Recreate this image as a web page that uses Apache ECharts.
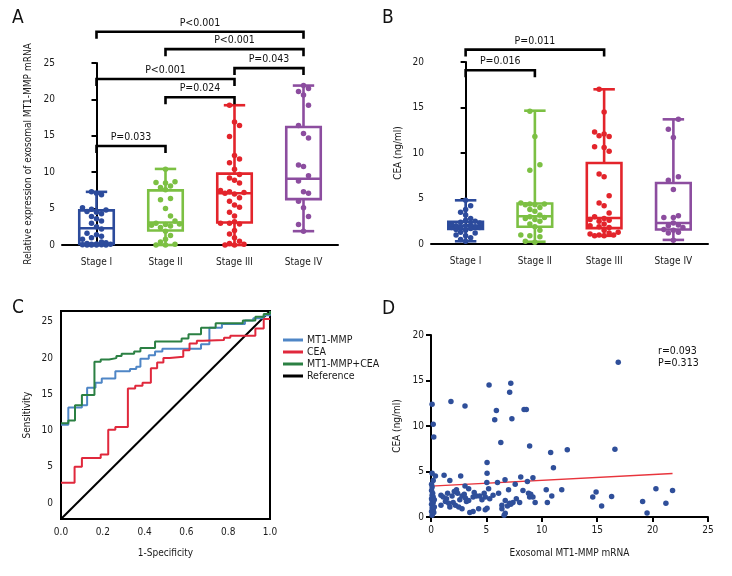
<!DOCTYPE html>
<html><head><meta charset="utf-8">
<script src="https://cdn.jsdelivr.net/npm/echarts@6/dist/echarts.min.js"></script>
<style>html,body{margin:0;padding:0;background:#fff}#c{width:732px;height:576px}</style>
</head><body><div id="c"></div>
<script>
const FONT = "'Liberation Sans Narrow','DejaVu Sans Condensed',sans-serif";
const FS = 10;
const stages = ['Stage I', 'Stage II', 'Stage III', 'Stage IV'];
const stageColors = ['#2c4b9c', '#7cc043', '#e3242b', '#8c4d9f'];

// Panel A: exosomal MT1-MMP mRNA by stage  [min, Q1, median, Q3, max]
const mmpBox = [
  [0, 0.15, 2.3, 4.75, 7.3],
  [0, 2.0, 3.1, 7.5, 10.45],
  [0, 3.1, 7.1, 9.8, 19.2],
  [1.9, 6.3, 9.1, 16.2, 21.9]
];
const mmpStageI = [7.3,7.1,6.9,5.1,4.9,4.8,4.6,4.5,4.3,3.9,3.6,3.3,3.0,2.5,2.2,1.6,1.4,1.2,1.0,0.8,0.4,0.3,0.2,0.15,0.1,0.1,0.05,0.05,0,0,0,0];
const mmpStageII = [10.4,8.7,8.6,8.5,8.1,7.9,7.6,6.4,6.2,5.0,4.0,3.3,3.0,2.9,2.8,2.7,2.6,2.4,1.9,1.3,0.8,0.4,0.1,0,0];
const mmpStageIII = [19.2,16.9,16.4,14.9,12.3,11.8,11.3,10.4,9.7,9.2,8.9,8.5,7.5,7.3,7.2,7.1,7.0,6.5,6.0,5.5,5.2,4.5,4.0,3.2,3.0,3.0,2.9,2.0,1.5,1.0,0.5,0.2,0.1,0,0];
const mmpStageIV = [21.9,21.5,21.1,20.6,19.2,16.4,15.3,14.7,11.0,10.8,9.5,8.8,7.3,7.1,6.0,5.1,3.9,2.8,1.9];
const mmpBrackets = [[0,3,29.3],[1,3,26.9],[2,3,24.3],[0,2,22.8],[1,2,20.3],[0,1,13.6]];
const mmpBracketLabels = ['P<0.001','P<0.001','P=0.043','P<0.001','P=0.024','P=0.033'];

// Panel B: CEA by stage
const ceaBox = [
  [0.3, 1.65, 2.0, 2.45, 4.8],
  [0.25, 1.9, 3.05, 4.45, 14.65],
  [0.9, 1.75, 2.85, 8.9, 17.0],
  [0.45, 1.6, 2.3, 6.7, 13.7]
];
const ceaStageI = [4.8,4.2,3.8,3.5,3.2,2.8,2.6,2.5,2.4,2.3,2.2,2.1,2.0,2.0,1.9,1.9,1.8,1.8,1.7,1.6,1.5,1.3,1.2,1.0,0.9,0.7,0.5,0.3];
const ceaStageII = [14.6,11.8,8.7,8.1,4.5,4.4,4.4,4.3,4.3,4.0,3.8,3.6,3.2,3.0,2.9,2.8,2.7,2.5,2.2,1.9,1.5,1.0,0.9,0.8,0.3,0.2];
const ceaStageIII = [17.0,14.5,12.3,12.1,11.9,11.8,10.7,10.6,10.2,7.7,7.4,5.3,4.5,4.2,3.4,3.0,2.8,2.7,2.6,2.5,2.2,2.0,1.9,1.8,1.5,1.3,1.2,1.1,1.0,1.0,0.9,0.9];
const ceaStageIV = [13.7,12.6,11.7,7.4,7.0,6.0,3.1,2.9,2.9,2.3,2.1,2.0,1.8,1.6,1.5,1.3,1.2,0.4];
const ceaBrackets = [[0,2,21.36],[0,1,19.1]];
const ceaBracketLabels = ['P=0.011','P=0.016'];

// Panel C: ROC curves (1-specificity, sensitivity)
const rocMMP = [[0,10.8],[0.035,13.2],[0.1,13.5],[0.125,15.9],[0.165,16.6],[0.195,17.2],[0.26,18.2],[0.33,18.5],[0.36,18.8],[0.38,19.9],[0.42,20.4],[0.45,20.9],[0.485,21.3],[0.67,21.9],[0.71,24.2],[0.77,24.7],[0.88,25.2],[0.92,25.5],[0.97,25.9],[1.0,26.5]];
const rocCEA = [[0,2.8],[0.065,5.0],[0.1,6.2],[0.19,6.7],[0.226,10.1],[0.26,10.5],[0.32,15.8],[0.355,16.2],[0.39,16.6],[0.43,18.6],[0.46,19.4],[0.49,20.0],[0.52,20.2],[0.585,21.1],[0.615,22.0],[0.65,22.4],[0.68,22.5],[0.78,22.8],[0.81,23.1],[0.93,24.1],[0.97,25.4],[1.0,25.4]];
const rocCombined = [[0,11.0],[0.035,11.4],[0.067,13.5],[0.1,14.9],[0.16,19.5],[0.19,19.8],[0.23,20.0],[0.265,20.3],[0.29,20.6],[0.35,20.9],[0.38,21.4],[0.45,22.3],[0.577,22.7],[0.61,23.3],[0.67,24.2],[0.74,24.8],[0.87,25.2],[0.93,25.7],[0.97,26.1],[1.0,26.5]];
const rocReference = [[0,-2.2],[1,26.5]];
const rocYLabels = [0,5,10,15,20,25];

// Panel D: correlation scatter (exosomal MT1-MMP mRNA, CEA)
const corrPoints = [
  [0.1,12.4],[0.2,10.2],[0.25,8.8],[1.8,12.7],[3.07,12.2],[5.24,14.5],[7.2,14.7],[7.1,13.7],[5.9,11.7],[5.75,10.7],
  [7.3,10.8],[8.4,11.8],[8.6,11.8],[6.3,8.2],[8.9,7.8],[10.8,7.1],[12.3,7.4],[11.05,5.4],[5.06,6.0],[5.06,4.8],
  [16.9,17.0],[16.6,7.45],[14.9,2.75],[14.6,2.2],[15.4,1.2],[16.3,2.25],[19.1,1.7],[19.5,0.45],[20.3,3.1],[21.2,1.5],[21.8,2.9],
  [0.1,4.8],[0.2,4.0],[0.05,3.6],[0.1,3.3],[0.05,2.9],[0.15,2.6],[0.1,2.4],[0.2,2.2],[0.05,2.0],[0.1,1.8],[0.2,1.6],
  [0.05,1.4],[0.15,1.2],[0.1,1.0],[0.2,0.8],[0.05,0.6],[0.15,0.4],[0.1,0.2],[0.3,1.9],[0.3,1.1],[0.25,0.5],[0.4,4.5],
  [1.18,4.6],[2.68,4.5],[1.7,4.0],[3.07,3.4],[6.68,4.1],[6.0,3.8],[8.1,4.4],[9.2,4.3],[8.7,3.9],[7.6,3.6],[5.04,3.8],
  [5.2,3.1],[3.4,3.1],[0.9,2.4],[1.4,2.0],[1.9,2.3],[2.3,3.0],[2.4,2.6],[2.6,1.9],[2.8,2.3],[3.0,2.5],[3.1,2.1],
  [3.4,1.8],[3.8,2.2],[4.1,2.3],[4.4,2.3],[4.8,2.6],[4.9,2.2],[5.6,2.4],[6.7,1.8],[7.0,3.0],[7.1,1.5],[7.4,1.6],
  [7.7,2.0],[8.0,1.6],[8.8,2.6],[8.9,2.2],[9.2,2.2],[9.4,1.6],[10.4,3.0],[10.5,1.6],[10.9,2.3],[11.8,3.0],
  [0.9,1.3],[1.3,1.7],[1.7,1.1],[2.0,1.6],[2.2,1.3],[2.8,0.9],[3.5,0.5],[3.8,0.6],[4.3,0.9],[4.9,0.8],[5.06,0.95],
  [6.4,1.3],[6.4,0.9],[6.7,0.4],[6.9,1.2],[7.2,1.4],[1.1,2.2],[1.6,1.5],[2.5,1.1],[3.2,1.7],[4.6,1.9],[5.3,2.0],
  [6.1,2.6],[6.6,0.2],[8.3,2.9],[9.0,2.5],[3.9,2.7],[2.1,2.8],[1.5,2.6]
];
const fitLine = [[0,3.4],[21.8,4.78]];

// deterministic beeswarm-style spread of dots inside each box
function swarm(values, idx, pxPerUnit, bandPx) {
  const placed = [], out = [];
  const sorted = values.slice().sort((a, b) => a - b);
  const d = 5.2;
  const starts = [0, -5, 5];
  const fallback = [0, -5, 5, -9.5, 9.5, -14, 14];
  sorted.forEach((v, n) => {
    const py = v * pxPerUnit;
    const cand = [starts[n % 3]].concat(fallback);
    let best = cand[0], bestScore = -1;
    for (const off of cand) {
      let minD = Infinity;
      placed.forEach(p => { minD = Math.min(minD, Math.hypot(p[0] - off, p[1] - py)); });
      if (minD >= d) { best = off; break; }
      if (minD > bestScore) { bestScore = minD; best = off; }
    }
    placed.push([best, py]);
    out.push([idx + best / bandPx, v]);
  });
  return out;
}

function boxRender(params, api) {
  const i = api.value(0);
  const c = stageColors[i];
  const bw = api.size([1, 0])[0] * 0.5;
  const cap = bw * 0.62;
  const p = k => api.coord([i, api.value(k)]);
  const x = p(1)[0];
  const yMin = p(1)[1], yQ1 = p(2)[1], yMed = p(3)[1], yQ3 = p(4)[1], yMax = p(5)[1];
  const st = {stroke: c, lineWidth: 2.6, fill: null};
  return {type: 'group', children: [
    {type: 'line', shape: {x1: x, y1: yMax, x2: x, y2: yQ3}, style: st},
    {type: 'line', shape: {x1: x, y1: yQ1, x2: x, y2: yMin}, style: st},
    {type: 'line', shape: {x1: x - cap / 2, y1: yMax, x2: x + cap / 2, y2: yMax}, style: st},
    {type: 'line', shape: {x1: x - cap / 2, y1: yMin, x2: x + cap / 2, y2: yMin}, style: st},
    {type: 'rect', shape: {x: x - bw / 2, y: yQ3, width: bw, height: yQ1 - yQ3}, style: {stroke: c, lineWidth: 2.6, fill: 'rgba(255,255,255,0)'}},
    {type: 'line', shape: {x1: x - bw / 2, y1: yMed, x2: x + bw / 2, y2: yMed}, style: st}
  ]};
}

function bracketRenderer(labels) {
  return function (params, api) {
    const a = api.value(0), b = api.value(1), y = api.value(2);
    const p1 = api.coord([a, y]), p2 = api.coord([b, y]);
    const leg = 7;
    return {type: 'group', children: [
      {type: 'polyline', shape: {points: [[p1[0], p1[1] + leg], [p1[0], p1[1]], [p2[0], p2[1]], [p2[0], p2[1] + leg]]},
        style: {stroke: '#000', lineWidth: 2.6, fill: null}},
      {type: 'text', x: (p1[0] + p2[0]) / 2, y: p1[1] - 3,
        style: {text: labels[params.dataIndex], align: 'center', verticalAlign: 'bottom', fontSize: FS + 0.5, fontFamily: FONT, fill: '#111'}}
    ]};
  };
}

const chart = echarts.init(document.getElementById('c'), null, {renderer: 'canvas'});
const axisLineStyle = {lineStyle: {color: '#000', width: 2}};
const lbl = {color: '#1a1a1a', fontSize: FS, fontFamily: FONT};
const nameStyle = {color: '#1a1a1a', fontSize: FS, fontFamily: FONT};

function catAxis(grid) {
  return {type: 'category', gridIndex: grid, data: stages, boundaryGap: true,
    axisLine: axisLineStyle, axisTick: {alignWithLabel: true, length: 5, lineStyle: {color: '#000', width: 2}},
    axisLabel: Object.assign({margin: 12, interval: 0}, lbl), splitLine: {show: false}};
}
function hiddenAxis(grid) {
  return {type: 'value', gridIndex: grid, min: -0.5, max: 3.5, show: false};
}
function valAxis(grid, min, max, name, gap) {
  return {type: 'value', gridIndex: grid, min: min, max: max, interval: 5,
    axisLine: {show: true, lineStyle: {color: '#000', width: 2}},
    axisTick: {show: true, length: 5, lineStyle: {color: '#000', width: 2}},
    axisLabel: Object.assign({margin: 7}, lbl), splitLine: {show: false},
    name: name, nameLocation: 'middle', nameGap: gap, nameTextStyle: nameStyle};
}

const mmpStages = [mmpStageI, mmpStageII, mmpStageIII, mmpStageIV];
const ceaStages = [ceaStageI, ceaStageII, ceaStageIII, ceaStageIV];

const series = [];
// Panel A
series.push({type: 'custom', xAxisIndex: 0, yAxisIndex: 0, renderItem: boxRender, z: 2,
  data: mmpBox.map((b, i) => [i].concat(b)), encode: {x: 0, y: [1, 2, 3, 4, 5]}});
mmpStages.forEach((vals, i) => series.push({type: 'scatter', xAxisIndex: 1, yAxisIndex: 0, z: 3,
  symbolSize: 5.5, itemStyle: {color: stageColors[i], opacity: 1}, data: swarm(vals, i, 7.3, 69)}));
series.push({type: 'custom', xAxisIndex: 0, yAxisIndex: 0, clip: false, z: 4,
  renderItem: bracketRenderer(mmpBracketLabels), data: mmpBrackets, encode: {x: [0, 1], y: 2}});
// Panel B
series.push({type: 'custom', xAxisIndex: 2, yAxisIndex: 1, renderItem: boxRender, z: 2,
  data: ceaBox.map((b, i) => [i].concat(b)), encode: {x: 0, y: [1, 2, 3, 4, 5]}});
ceaStages.forEach((vals, i) => series.push({type: 'scatter', xAxisIndex: 3, yAxisIndex: 1, z: 3,
  symbolSize: 5.5, itemStyle: {color: stageColors[i], opacity: 1}, data: swarm(vals, i, 9.13, 69)}));
series.push({type: 'custom', xAxisIndex: 2, yAxisIndex: 1, clip: false, z: 4,
  renderItem: bracketRenderer(ceaBracketLabels), data: ceaBrackets, encode: {x: [0, 1], y: 2}});
// Panel C
const rocLine = (name, data, color, z) => ({type: 'line', name: name, xAxisIndex: 4, yAxisIndex: 2, data: data,
  step: 'end', symbol: 'none', z: z, lineStyle: {color: color, width: 2}, itemStyle: {color: color}});
series.push(rocLine('MT1-MMP', rocMMP, '#4f86c6', 3));
series.push(rocLine('CEA', rocCEA, '#e0283c', 3));
series.push(rocLine('MT1-MMP+CEA', rocCombined, '#2b8043', 4));
series.push({type: 'line', name: 'Reference', xAxisIndex: 4, yAxisIndex: 2, data: rocReference, symbol: 'none',
  lineStyle: {color: '#000', width: 2}, itemStyle: {color: '#000'}, z: 2});
// Panel D
series.push({type: 'scatter', xAxisIndex: 5, yAxisIndex: 3, data: corrPoints, symbolSize: 5.5,
  itemStyle: {color: '#2f4f9a', opacity: 1}, z: 3});
series.push({type: 'line', xAxisIndex: 5, yAxisIndex: 3, data: fitLine, symbol: 'none',
  lineStyle: {color: '#e8343c', width: 1.3}, z: 2});

const option = {
  animation: false,
  backgroundColor: '#fff',
  textStyle: {fontFamily: FONT},
  grid: [
    {left: 62, top: 63, width: 276, height: 182},
    {left: 431, top: 62, width: 277, height: 182},
    {left: 61, top: 311, width: 209, height: 208, show: true, borderColor: '#000', borderWidth: 2, backgroundColor: 'transparent'},
    {left: 431, top: 335, width: 277, height: 182}
  ],
  xAxis: [
    catAxis(0), hiddenAxis(0), catAxis(1), hiddenAxis(1),
    {type: 'value', gridIndex: 2, min: 0, max: 1, interval: 0.2, axisLine: {show: false}, axisTick: {show: false},
      axisLabel: Object.assign({margin: 8, formatter: v => v.toFixed(1)}, lbl), splitLine: {show: false},
      name: '1-Specificity', nameLocation: 'middle', nameGap: 29, nameTextStyle: nameStyle},
    {type: 'value', gridIndex: 3, min: 0, max: 25, interval: 5,
      axisLine: {show: true, onZero: false, lineStyle: {color: '#000', width: 2}},
      axisTick: {show: true, length: 5, lineStyle: {color: '#000', width: 2}},
      axisLabel: Object.assign({margin: 8}, lbl), splitLine: {show: false},
      name: 'Exosomal MT1-MMP mRNA', nameLocation: 'middle', nameGap: 31, nameTextStyle: nameStyle}
  ],
  yAxis: [
    valAxis(0, 0, 25, 'Relative expression of exosomal MT1-MMP mRNA', 29),
    valAxis(1, 0, 20, 'CEA (ng/ml)', 28),
    {type: 'value', gridIndex: 2, min: -2.2, max: 26.5, axisLine: {show: false},
      axisTick: {show: false, customValues: rocYLabels},
      axisLabel: Object.assign({margin: 8, customValues: rocYLabels}, lbl), splitLine: {show: false},
      name: 'Sensitivity', nameLocation: 'middle', nameGap: 29, nameTextStyle: nameStyle},
    valAxis(3, 0, 20, 'CEA (ng/ml)', 29)
  ],
  legend: {
    data: ['MT1-MMP', 'CEA', 'MT1-MMP+CEA', 'Reference'],
    orient: 'vertical', left: 283, top: 334, padding: 0, icon: 'rect', itemWidth: 20, itemHeight: 3, itemGap: 0,
    textStyle: {color: '#1a1a1a', fontSize: FS + 0.5, fontFamily: FONT, lineHeight: 12, padding: [0, 0, 0, -1]}
  },
  graphic: [
    {type: 'text', left: 12, top: 9, style: {text: 'A', fontSize: 19, fontFamily: FONT, fill: '#111'}},
    {type: 'text', left: 382, top: 9, style: {text: 'B', fontSize: 19, fontFamily: FONT, fill: '#111'}},
    {type: 'text', left: 12, top: 299, style: {text: 'C', fontSize: 19, fontFamily: FONT, fill: '#111'}},
    {type: 'text', left: 382, top: 300, style: {text: 'D', fontSize: 19, fontFamily: FONT, fill: '#111'}},
    {type: 'text', left: 658, top: 345, style: {text: 'r=0.093\nP=0.313', fontSize: FS + 0.5, lineHeight: 12, fontFamily: FONT, fill: '#111'}}
  ],
  series: series
};
chart.setOption(option);
</script></body></html>
